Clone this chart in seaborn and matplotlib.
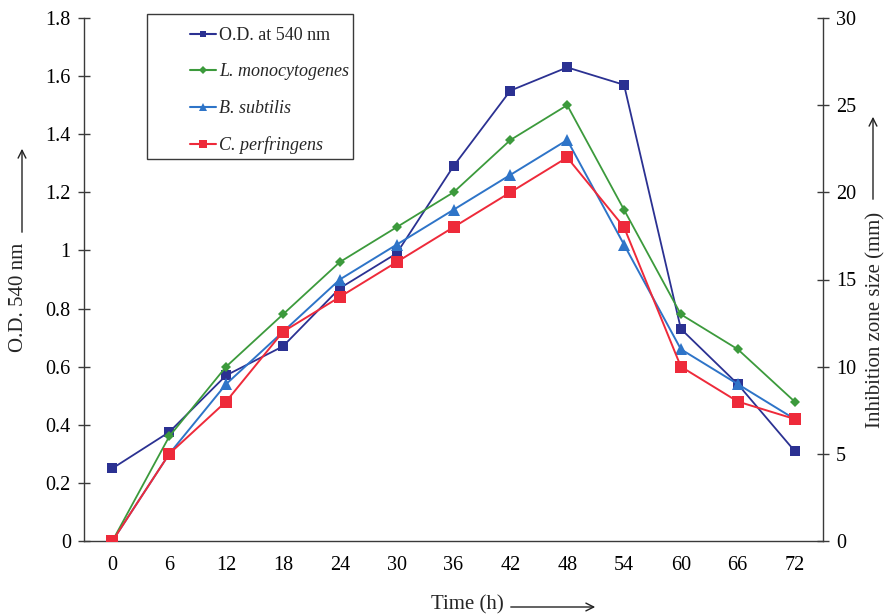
import numpy as np
import pandas as pd
import matplotlib
matplotlib.use("Agg")
import matplotlib.pyplot as plt
import seaborn as sns
from matplotlib.lines import Line2D
from matplotlib.patches import Rectangle

# ---- data ----
times = ["0", "6", "12", "18", "24", "30", "36", "42", "48", "54", "60", "66", "72"]
od_540 = [0.25, 0.375, 0.57, 0.67, 0.87, 0.99, 1.29, 1.55, 1.63, 1.57, 0.73, 0.54, 0.31]
l_monocytogenes = [0, 6, 10, 13, 16, 18, 20, 23, 25, 19, 13, 11, 8]
b_subtilis = [0, 5, 9, 12, 15, 17, 19, 21, 23, 17, 11, 9, 7]
c_perfringens = [0, 5, 8, 12, 14, 16, 18, 20, 22, 18, 10, 8, 7]
left_ticks = [0, 0.2, 0.4, 0.6, 0.8, 1.0, 1.2, 1.4, 1.6, 1.8]
left_labels = ["0", "0.2", "0.4", "0.6", "0.8", "1", "1.2", "1.4", "1.6", "1.8"]
right_ticks = [0, 5, 10, 15, 20, 25, 30]
series_names = ["O.D. at 540 nm", "L. monocytogenes", "B. subtilis", "C. perfringens"]

sns.set_style("white")
plt.rcParams["font.family"] = ["Liberation Serif", "DejaVu Serif"]

navy = "#2B3192"
green = "#3C9A3C"
blue = "#2E74C8"
red = "#EE2A3A"
spine_c = "#3a3a3a"

pos = np.arange(len(times))
df = pd.DataFrame({"pos": pos, "od": od_540, "lm": l_monocytogenes,
                   "bs": b_subtilis, "cp": c_perfringens})

fig = plt.figure(figsize=(8.84, 6.15), dpi=100)
ax = fig.add_axes([84 / 884, 1 - 541 / 615, (823 - 84) / 884, (541 - 18) / 615])
ax2 = ax.twinx()

sns.lineplot(data=df, x="pos", y="od", ax=ax, color=navy, marker="s", markersize=7,
             markeredgewidth=0, linewidth=1.3, legend=False)
sns.lineplot(data=df, x="pos", y="bs", ax=ax2, color=blue, marker="^", markersize=8.5,
             markeredgewidth=0, linewidth=1.4, legend=False, zorder=2)
sns.lineplot(data=df, x="pos", y="lm", ax=ax2, color=green, marker="D", markersize=5.5,
             markeredgewidth=0, linewidth=1.3, legend=False, zorder=3)
sns.lineplot(data=df, x="pos", y="cp", ax=ax2, color=red, marker="s", markersize=8.5,
             markeredgewidth=0, linewidth=1.4, legend=False, zorder=4)

ax.set_xlim(-0.5, len(times) - 0.5)
ax.set_ylim(0, 1.8)
ax2.set_ylim(0, 30)

ax.set_xticks(pos)
ax.set_xticklabels(times)
ax.set_xticks(pos[:-1] + 0.5, minor=True)
ax.tick_params(axis="x", which="major", length=0, pad=11, labelsize=14.5, colors="black")
ax.tick_params(axis="x", which="minor", length=9, width=1, direction="inout", color=spine_c)

ax.set_yticks(left_ticks)
ax.set_yticklabels(left_labels)
ax.tick_params(axis="y", which="major", length=9, width=1, direction="inout",
               labelsize=14.5, pad=5, color=spine_c, left=True, labelcolor="black")
ax2.set_yticks(right_ticks)
ax2.tick_params(axis="y", which="major", length=9, width=1, direction="inout",
                labelsize=14.5, pad=5, color=spine_c, right=True, labelcolor="black")

ax.set_xlabel("")
ax.set_ylabel("")
ax2.set_ylabel("")

for a in (ax, ax2):
    a.spines["top"].set_visible(False)
    for s in a.spines.values():
        s.set_color(spine_c)
        s.set_linewidth(1)
ax.spines["right"].set_visible(False)
ax2.spines["left"].set_visible(False)
ax2.spines["bottom"].set_visible(False)

# axis labels with arrows
W, H = 884, 615
fig.text(467 / W, 1 - 605 / H, "Time (h)", ha="center", va="center", fontsize=15)
fig.text(19 / W, 1 - 297 / H, "O.D. 540 nm", ha="center", va="center", rotation=90, fontsize=15)
fig.text(876 / W, 1 - 320 / H, "Inhibition zone size (mm)", ha="center", va="center",
         rotation=90, fontsize=15)
arrow_kw = dict(arrowstyle="->", color="#222222", lw=1, mutation_scale=14)
fig.add_artist(matplotlib.patches.FancyArrowPatch((508 / W, 1 - 607 / H), (598 / W, 1 - 607 / H),
               transform=fig.transFigure, **arrow_kw))
fig.add_artist(matplotlib.patches.FancyArrowPatch((22 / W, 1 - 235 / H), (22 / W, 1 - 146 / H),
               transform=fig.transFigure, **arrow_kw))
fig.add_artist(matplotlib.patches.FancyArrowPatch((873 / W, 1 - 202 / H), (873 / W, 1 - 114 / H),
               transform=fig.transFigure, **arrow_kw))

# legend
handles = [
    Line2D([], [], color=navy, marker="s", markersize=5, markeredgewidth=0, lw=1.5),
    Line2D([], [], color=green, marker="D", markersize=4, markeredgewidth=0, lw=1.5),
    Line2D([], [], color=blue, marker="^", markersize=6, markeredgewidth=0, lw=1.5),
    Line2D([], [], color=red, marker="s", markersize=6, markeredgewidth=0, lw=1.5),
]
leg = fig.legend(handles, series_names, loc="upper left",
                 bbox_to_anchor=(190 / W, 1 - 27 / H), frameon=False, fontsize=13,
                 handlelength=1.45, handletextpad=0.15, labelspacing=1.08,
                 borderpad=0, borderaxespad=0)
for t in leg.get_texts()[1:]:
    t.set_style("italic")
fig.add_artist(Rectangle((147 / W, 1 - 159 / H), (353 - 147) / W, (159 - 14) / H,
                         transform=fig.transFigure, fill=False, edgecolor=spine_c, lw=1))

fig.savefig("out.png", dpi=100)
